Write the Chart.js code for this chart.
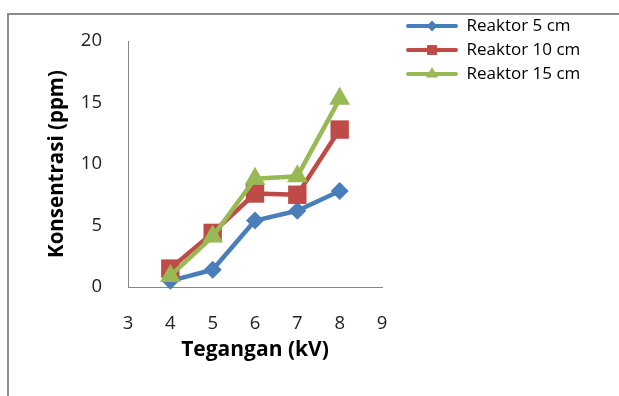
<!DOCTYPE html>
<html>
<head>
<meta charset="utf-8">
<script src="https://cdn.jsdelivr.net/npm/chart.js@4/dist/chart.umd.min.js"></script>
<style>
  html, body { margin: 0; padding: 0; background: #fff; overflow: hidden; }
  #wrap { position: relative; width: 619px; height: 396px; }
  #frame { position: absolute; left: 7px; top: 13px; width: 700px; height: 500px;
           border-left: 2px solid #8c8c8c; border-top: 2px solid #8c8c8c; }
  canvas { position: absolute; left: 0; top: 0; }
</style>
</head>
<body>
<div id="wrap">
  <div id="frame"></div>
  <canvas id="chart" width="619" height="396"></canvas>
</div>
<script>
// Voltage (kV) on the x axis, concentration (ppm) on the y axis
const voltages   = [4, 5, 6, 7, 8];
const reaktor5   = [0.5, 1.4, 5.4, 6.2, 7.8];
const reaktor10  = [1.5, 4.4, 7.6, 7.5, 12.8];
const reaktor15  = [0.9, 4.1, 8.8, 9.0, 15.3];
const seriesNames = ['Reaktor 5 cm', 'Reaktor 10 cm', 'Reaktor 15 cm'];
const xTickValues = [3, 4, 5, 6, 7, 8, 9];
const yTickValues = [0, 5, 10, 15, 20];

const BLUE = '#4a7ebb', RED = '#be4b48', GREEN = '#98b954';

Chart.defaults.font.family = "'Open Sans', 'Liberation Sans', sans-serif";

function toPoints(values) {
  return voltages.map((v, i) => ({ x: v, y: values[i] }));
}

// Legend symbol: a short line with the series marker in its middle
function legendSymbol(color, style, radius) {
  const c = document.createElement('canvas');
  c.width = 52; c.height = 20;
  const g = c.getContext('2d');
  g.strokeStyle = color; g.lineWidth = 4; g.lineCap = 'round';
  g.beginPath(); g.moveTo(2, 10); g.lineTo(50, 10); g.stroke();
  g.fillStyle = color;
  Chart.helpers.drawPoint(g, { pointStyle: style, radius: radius, rotation: 0, borderWidth: 0 }, 26, 10);
  return c;
}

const styles = [
  { color: BLUE,  marker: 'rectRot',  radius: 9,  legendRadius: 5.5 },
  { color: RED,   marker: 'rect',     radius: 13, legendRadius: 7 },
  { color: GREEN, marker: 'triangle', radius: 12, legendRadius: 7 }
];
const symbols = styles.map(s => legendSymbol(s.color, s.marker, s.legendRadius));

function dataset(label, values, s, order) {
  return {
    label: label,
    data: toPoints(values),
    borderColor: s.color,
    backgroundColor: s.color,
    borderWidth: 4.5,
    borderJoinStyle: 'round',
    pointStyle: s.marker,
    pointRadius: s.radius,
    pointHoverRadius: s.radius,
    pointBackgroundColor: s.color,
    pointBorderColor: s.color,
    pointBorderWidth: 0,
    tension: 0,
    clip: false,
    order: order
  };
}

// Places the legend to the right of the plot, beside its top edge
const legendPlacement = {
  id: 'legendPlacement',
  afterLayout(chart) {
    const lg = chart.legend;
    if (!lg) return;
    lg.left = 399; lg.top = 10.5;
    lg.width = 210; lg.height = 110;
    lg.right = lg.left + lg.width; lg.bottom = lg.top + lg.height;
  }
};

new Chart(document.getElementById('chart'), {
  type: 'line',
  data: {
    datasets: [
      dataset(seriesNames[0], reaktor5,  styles[0], 3),
      dataset(seriesNames[1], reaktor10, styles[1], 2),
      dataset(seriesNames[2], reaktor15, styles[2], 1)
    ]
  },
  options: {
    responsive: false,
    animation: false,
    events: [],
    layout: { padding: { left: 0, top: 41, right: 237, bottom: 33 } },
    plugins: {
      tooltip: { enabled: false },
      legend: {
        position: 'chartArea',
        align: 'start',
        labels: {
          usePointStyle: true,
          pointStyleWidth: 52,
          padding: 7,
          color: '#000',
          font: { size: 17 },
          generateLabels(chart) {
            return chart.data.datasets.map((ds, i) => ({
              text: ds.label,
              pointStyle: symbols[i],
              fillStyle: ds.borderColor,
              strokeStyle: ds.borderColor,
              lineWidth: 0,
              hidden: false,
              datasetIndex: i
            }));
          }
        }
      }
    },
    scales: {
      x: {
        type: 'linear',
        min: 3, max: 9,
        afterBuildTicks: s => { s.ticks = xTickValues.map(v => ({ value: v })); },
        afterFit: s => { s.height = 76; },
        grid: { display: false, drawTicks: false },
        border: { display: true, color: '#868686', width: 1 },
        ticks: { padding: 26, color: '#222', font: { size: 18.5 } },
        title: {
          display: true, text: 'Tegangan (kV)', color: '#000',
          font: { size: 21, weight: 'bold' },
          padding: { top: 0, bottom: 0 }
        }
      },
      y: {
        type: 'linear',
        min: 0, max: 20,
        afterBuildTicks: s => { s.ticks = yTickValues.map(v => ({ value: v })); },
        afterFit: s => { s.width = 128; },
        grid: { display: false, drawTicks: false },
        border: { display: true, color: '#868686', width: 1 },
        ticks: { padding: 26, color: '#222', font: { size: 18.5 } },
        title: {
          display: true, text: 'Konsentrasi (ppm)', color: '#000',
          font: { size: 20.5, weight: 'bold' },
          padding: { top: 45, bottom: 0 }
        }
      }
    }
  },
  plugins: [legendPlacement]
});
</script>
</body>
</html>
